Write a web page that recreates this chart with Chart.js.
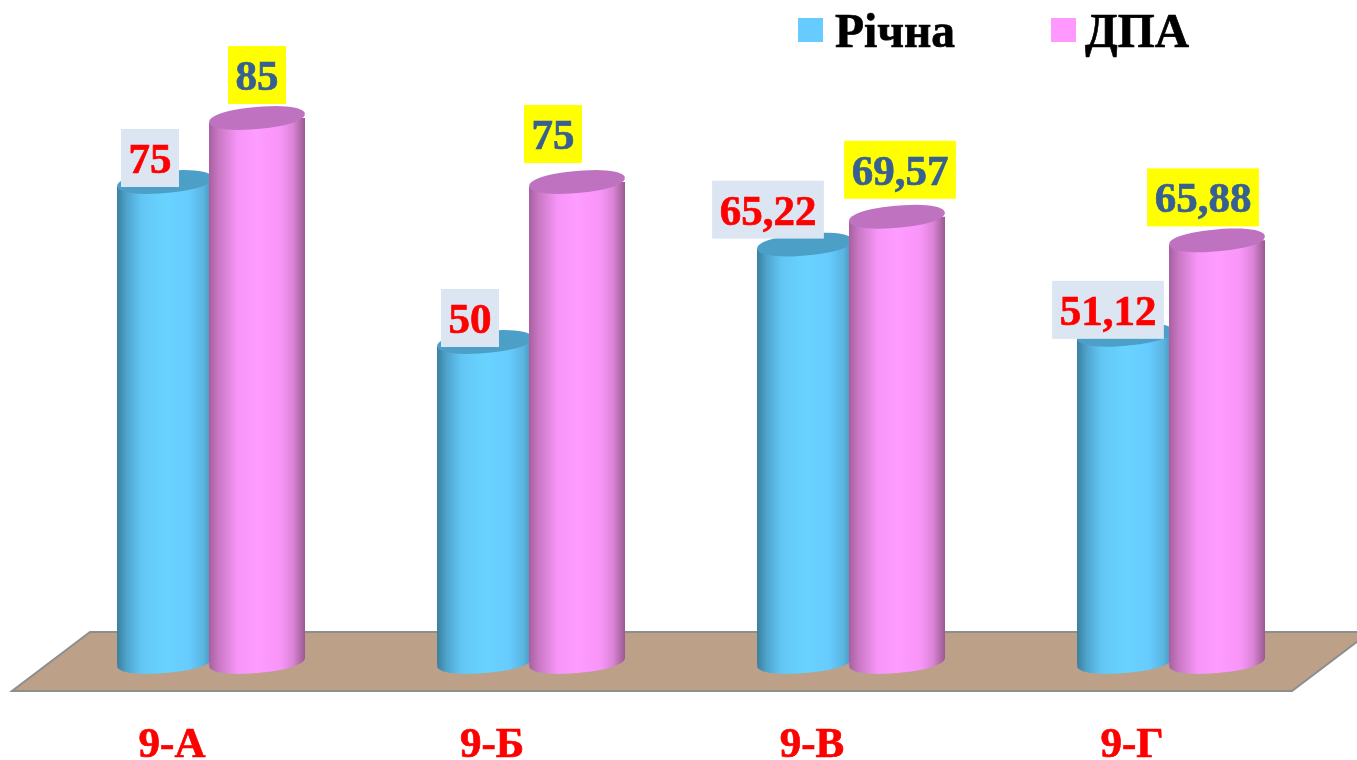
<!DOCTYPE html>
<html lang="uk">
<head>
<meta charset="utf-8">
<title>Річна і ДПА</title>
<script src="https://cdn.jsdelivr.net/npm/chart.js@4/dist/chart.umd.min.js"></script>
<style>
  html, body { margin: 0; padding: 0; background: #fff; overflow: hidden; }
  canvas { display: block; }
</style>
</head>
<body>
<canvas id="chart" width="1357" height="760"></canvas>
<script>
const categories = ['9-А', '9-Б', '9-В', '9-Г'];
const richna = [75, 50, 65.22, 51.12];
const dpa = [85, 75, 69.57, 65.88];

const FONT = '"Liberation Serif", "Times New Roman", serif';
const CAT_PCT = 0.575;
const BAR_PCT = 1.0435;
const TILT = -5 * Math.PI / 180;
const CAP_RY = 11;

const shades = [
    {
        base: '#66CCFF',
        cap: '#4C9FC6',
        stops: [[0, '#3A7F9E'], [0.1, '#4FA3CC'], [0.25, '#62C6F5'], [0.5, '#69D3FF'], [0.75, '#66CCFF'], [0.9, '#5AB4E0'], [1, '#4590B2']]
    },
    {
        base: '#FF99FF',
        cap: '#BF72BF',
        stops: [[0, '#A85FA0'], [0.1, '#C878C4'], [0.3, '#F895F8'], [0.5, '#FF9CFF'], [0.75, '#F994F9'], [0.88, '#D884D4'], [1, '#99598F']]
    }
];

// label boxes do not sit centred on the bars in the picture, so each gets a nudge
const boxStyles = [
    { fill: '#DCE6F2', text: '#FF0000', nudge: [[-15, -24], [-15, -24], [-37, -35], [-17, -25]] },
    { fill: '#FFFF00', text: '#376092', nudge: [[0, -43], [-24, -48], [3, -47], [-14, -43]] }
];

function barGradient(c, di) {
    const chart = c.chart;
    if (c.type !== 'data' || !chart.chartArea) return shades[di].base;
    const x = chart.scales.x;
    const slot = (x.getPixelForValue(1) - x.getPixelForValue(0)) * CAT_PCT / 2;
    const center = x.getPixelForValue(c.dataIndex) + (di === 0 ? -0.5 : 0.5) * slot;
    const half = slot * BAR_PCT / 2;
    const g = chart.ctx.createLinearGradient(center - half, 0, center + half, 0);
    shades[di].stops.forEach((s) => g.addColorStop(s[0], s[1]));
    return g;
}

// a very slightly squared ellipse, the caps in the picture are a bit blunt at the ends
function capPath(ctx, cx, cy, rx, from, to) {
    const n = 2.15, steps = 48;
    const cos = Math.cos(TILT), sin = Math.sin(TILT);
    for (let i = 0; i <= steps; i++) {
        const t = from + (to - from) * i / steps;
        const ex = rx * Math.sign(Math.cos(t)) * Math.pow(Math.abs(Math.cos(t)), 2 / n);
        const ey = CAP_RY * Math.sign(Math.sin(t)) * Math.pow(Math.abs(Math.sin(t)), 2 / n);
        ctx.lineTo(cx + ex * cos - ey * sin, cy + ex * sin + ey * cos);
    }
}

function drawCylinder(ctx, el, di) {
    const rx = el.width / 2;
    const dy = rx * Math.sin(TILT);
    const left = el.x - rx, right = el.x + rx;

    // foot of the cylinder
    ctx.save();
    ctx.fillStyle = el.options.backgroundColor;
    ctx.beginPath();
    ctx.moveTo(left, el.base - 8);
    ctx.lineTo(right, el.base - 8);
    capPath(ctx, el.x, el.base, rx, 0, Math.PI);
    ctx.closePath();
    ctx.fill();
    ctx.restore();

    // body, both ends cut along the tilt of the caps
    ctx.save();
    ctx.beginPath();
    ctx.moveTo(left, el.y - dy);
    ctx.lineTo(right, el.y + dy);
    ctx.lineTo(right, el.base + dy);
    ctx.lineTo(left, el.base - dy);
    ctx.closePath();
    ctx.clip();
    el.draw(ctx);
    ctx.restore();

    // top cap
    ctx.fillStyle = shades[di].cap;
    ctx.beginPath();
    capPath(ctx, el.x, el.y, rx, 0, Math.PI * 2);
    ctx.closePath();
    ctx.fill();
}

const scene = {
    id: 'scene',
    // bars are drawn below by hand so ДПА can overlap Річна without moving it
    beforeDatasetDraw() {
        return false;
    },
    beforeDatasetsDraw(chart) {
        const { ctx, chartArea: a } = chart;
        const skew = 39;
        ctx.save();
        ctx.beginPath();
        ctx.moveTo(a.left + skew, a.bottom - 30);
        ctx.lineTo(a.right + skew, a.bottom - 30);
        ctx.lineTo(a.right - skew, a.bottom + 29);
        ctx.lineTo(a.left - skew, a.bottom + 29);
        ctx.closePath();
        ctx.fillStyle = '#BCA088';
        ctx.fill();
        ctx.strokeStyle = '#8E8E8E';
        ctx.lineWidth = 2;
        ctx.stroke();
        ctx.restore();
    },
    afterDatasetsDraw(chart) {
        const ctx = chart.ctx;
        [0, 1].forEach((di) => {
            chart.getDatasetMeta(di).data.forEach((el) => drawCylinder(ctx, el, di));
        });
        drawBoxes(chart);
        drawLegend(chart);
    }
};

function drawBoxes(chart) {
    const ctx = chart.ctx;
    ctx.save();
    ctx.font = 'bold 43px ' + FONT;
    ctx.textAlign = 'center';
    ctx.textBaseline = 'middle';
    ctx.lineWidth = 0.7;
    [0, 1].forEach((di) => {
        const style = boxStyles[di];
        chart.getDatasetMeta(di).data.forEach((el, i) => {
            const text = String(chart.data.datasets[di].data[i]).replace('.', ',');
            const cx = el.x + style.nudge[i][0];
            const cy = el.y + style.nudge[i][1];
            const w = ctx.measureText(text).width + 15;
            ctx.fillStyle = style.fill;
            ctx.fillRect(cx - w / 2, cy - 29, w, 58);
            ctx.fillStyle = style.text;
            ctx.strokeStyle = style.text;
            ctx.fillText(text, cx, cy + 4);
            ctx.strokeText(text, cx, cy + 4);
        });
    });
    ctx.restore();
}

function drawLegend(chart) {
    const ctx = chart.ctx;
    const startX = [798, 1051];
    ctx.save();
    ctx.font = 'bold 47.5px ' + FONT;
    ctx.textBaseline = 'alphabetic';
    ctx.lineWidth = 0.7;
    chart.data.datasets.forEach((ds, di) => {
        ctx.fillStyle = shades[di].base;
        ctx.fillRect(startX[di], 18, 25, 24);
        ctx.fillStyle = '#000';
        ctx.strokeStyle = '#000';
        ctx.fillText(ds.label, startX[di] + (di === 0 ? 37 : 34), 47);
        ctx.strokeText(ds.label, startX[di] + (di === 0 ? 37 : 34), 47);
    });
    ctx.restore();
}

new Chart(document.getElementById('chart'), {
    type: 'bar',
    data: {
        labels: categories,
        datasets: [
            { label: 'Річна', data: richna, backgroundColor: (c) => barGradient(c, 0) },
            { label: 'ДПА', data: dpa, backgroundColor: (c) => barGradient(c, 1) }
        ]
    },
    options: {
        responsive: false,
        animation: false,
        categoryPercentage: CAT_PCT,
        barPercentage: BAR_PCT,
        layout: { padding: { left: 51, right: 26, top: 22, bottom: 0 } },
        plugins: { legend: { display: false }, tooltip: { enabled: false } },
        scales: {
            x: {
                grid: { display: false },
                border: { display: false },
                afterFit: (scale) => { scale.height = 98; },
                ticks: {
                    color: '#FF0000',
                    font: { family: FONT, size: 43, weight: 'bold' },
                    textStrokeColor: '#FF0000',
                    textStrokeWidth: 0.7,
                    labelOffset: -39,
                    padding: 50,
                    maxRotation: 0
                }
            },
            y: { display: false, min: 0, max: 100 }
        }
    },
    plugins: [scene]
});
</script>
</body>
</html>
